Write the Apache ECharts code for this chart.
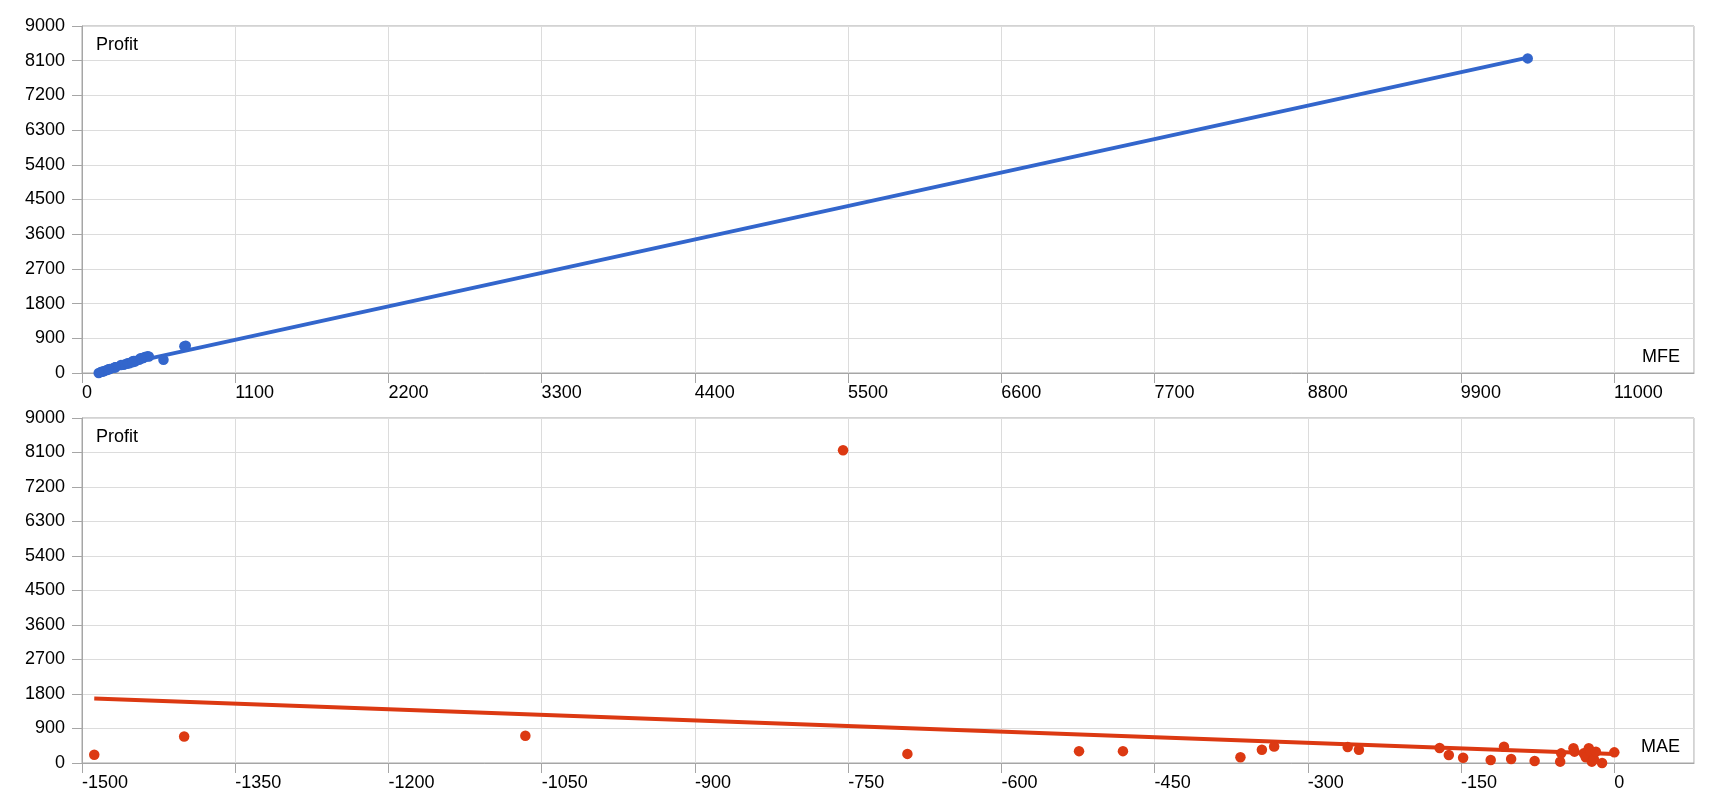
<!DOCTYPE html>
<html><head><meta charset="utf-8">
<script src="https://cdn.jsdelivr.net/npm/echarts@6/dist/echarts.min.js"></script>
<style>html,body{margin:0;padding:0;background:#fff}#c{width:1720px;height:800px}</style>
</head><body><div id="c"></div>
<script>
// One entry per trade
const profit = [216, 692, 710, 8160, 238, 309, 309, 150, 344, 432, 415, 344, 390, 209, 139, 78,
                426, 104, 52, 35, 252, 383, 296, 252, 148, 383, 296, 35, 96, 296, 0, 278];
const mfe    = [300, 735, 745, 10380, 320, 380, 370, 240, 585, 470, 450, 410, 440, 280, 230, 180,
                480, 200, 160, 150, 330, 430, 360, 340, 240, 420, 370, 140, 190, 380, 120, 360];
const mae    = [-1488, -1400, -1066, -755, -692, -524, -481, -366, -345, -333, -261, -250, -171, -162, -148, -121,
                -108, -101, -78, -53, -52, -40, -39, -30, -28, -25, -23, -22, -20, -18, -12, 0];

const profitTicks = [0, 900, 1800, 2700, 3600, 4500, 5400, 6300, 7200, 8100, 9000];
const mfeTicks = [0, 1100, 2200, 3300, 4400, 5500, 6600, 7700, 8800, 9900, 11000];
const maeTicks = [-1500, -1350, -1200, -1050, -900, -750, -600, -450, -300, -150, 0];
const mfeAxisMax = 11574;
const maeAxisMax = 78;

const BLUE = '#3366cc', RED = '#dc3912';
const FONT = '"Liberation Sans", Arial, sans-serif';

function trend(xs, ys) {
  const n = xs.length;
  const mx = xs.reduce((a, b) => a + b, 0) / n;
  const my = ys.reduce((a, b) => a + b, 0) / n;
  let sxy = 0, sxx = 0;
  for (let i = 0; i < n; i++) { sxy += (xs[i] - mx) * (ys[i] - my); sxx += (xs[i] - mx) ** 2; }
  const b = sxy / sxx, a = my - b * mx;
  const x0 = Math.min(...xs), x1 = Math.max(...xs);
  return [[x0, a + b * x0], [x1, a + b * x1]];
}
const pairs = (xs, ys) => xs.map((x, i) => [x, ys[i]]);
const plain = v => String(v);

function xAx(gi, ticks, max) {
  return {
    type: 'value', gridIndex: gi, min: ticks[0], max: max, interval: ticks[1] - ticks[0],
    axisLine: { show: true, onZero: false, lineStyle: { color: '#a6a6a6', width: 1 } },
    axisTick: { show: true, length: 10, lineStyle: { color: '#a6a6a6' } },
    axisLabel: { color: '#000', fontSize: 18, fontFamily: FONT, align: 'left', margin: 11,
                 showMaxLabel: false, formatter: plain },
    splitLine: { show: true, lineStyle: { color: '#dcdcdc', width: 1 } }
  };
}
function yAx(gi) {
  return {
    type: 'value', gridIndex: gi, min: profitTicks[0], max: profitTicks[profitTicks.length - 1],
    interval: profitTicks[1] - profitTicks[0],
    axisLine: { show: true, onZero: false, lineStyle: { color: '#a6a6a6', width: 1 } },
    axisTick: { show: true, length: 10, lineStyle: { color: '#a6a6a6' } },
    axisLabel: { color: '#000', fontSize: 18, fontFamily: FONT, margin: 17, formatter: plain },
    splitLine: { show: true, lineStyle: { color: '#dcdcdc', width: 1 } }
  };
}
const txt = (t, pos) => Object.assign({ type: 'text', style: { text: t, font: '18px ' + FONT, fill: '#000' } }, pos);

const chart = echarts.init(document.getElementById('c'), null, { renderer: 'canvas' });
chart.setOption({
  animation: false,
  backgroundColor: '#fff',
  grid: [
    { left: 82, right: 26, top: 26, height: 347, show: true, borderColor: '#a6a6a6', borderWidth: 1 },
    { left: 82, right: 26, top: 418, height: 345, show: true, borderColor: '#a6a6a6', borderWidth: 1 }
  ],
  xAxis: [xAx(0, mfeTicks, mfeAxisMax), xAx(1, maeTicks, maeAxisMax)],
  yAxis: [yAx(0), yAx(1)],
  graphic: [
    txt('Profit', { left: 96, top: 36 }),
    txt('MFE', { right: 40, top: 348 }),
    txt('Profit', { left: 96, top: 428 }),
    txt('MAE', { right: 40, top: 738 })
  ],
  series: [
    { type: 'line', xAxisIndex: 0, yAxisIndex: 0, data: trend(mfe, profit), showSymbol: false, z: 2,
      lineStyle: { color: BLUE, width: 4 }, silent: true },
    { type: 'scatter', xAxisIndex: 0, yAxisIndex: 0, data: pairs(mfe, profit), symbolSize: 10.5, z: 3,
      itemStyle: { color: BLUE, opacity: 1 } },
    { type: 'line', xAxisIndex: 1, yAxisIndex: 1, data: trend(mae, profit), showSymbol: false, z: 2,
      lineStyle: { color: RED, width: 4 }, silent: true },
    { type: 'scatter', xAxisIndex: 1, yAxisIndex: 1, data: pairs(mae, profit), symbolSize: 10.5, z: 3,
      itemStyle: { color: RED, opacity: 1 } }
  ]
});
</script>
</body></html>
